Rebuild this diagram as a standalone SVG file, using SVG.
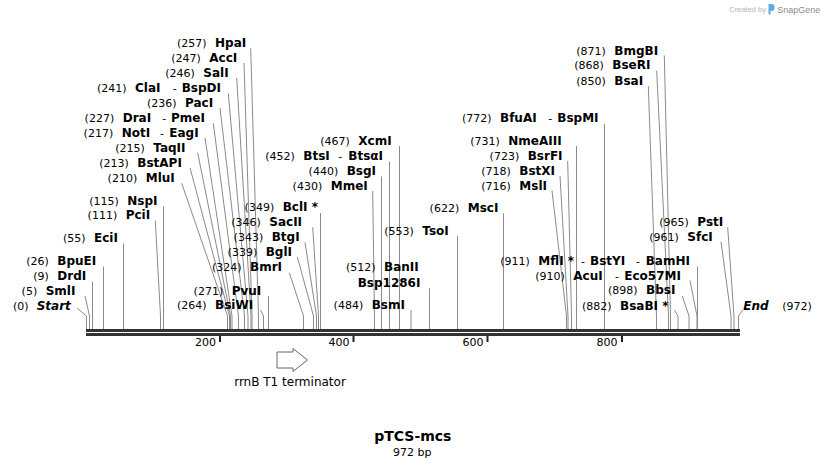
<svg xmlns="http://www.w3.org/2000/svg" width="826" height="468" viewBox="0 0 826 468">
<style>
text{font-family:"DejaVu Sans","Liberation Sans",sans-serif;fill:#000}
.n{font-size:11px;text-anchor:end}
.ns{font-size:11px}
.e{font-size:12px;font-weight:bold}
.i{font-size:12px;font-weight:bold;font-style:italic}
.d{font-size:11px}
.c polyline{fill:none;stroke:#8a8a8a;stroke-width:1}
.tk{font-size:11px;text-anchor:end}
</style>
<rect width="826" height="468" fill="#fff"/>
<g id="connectors" class="c">
<polyline points="77,308 86.5,316 86.5,329"/>
<polyline points="85,296 89.5,316 89.5,329"/>
<polyline points="92.5,281.5 92.5,329"/>
<polyline points="103.5,266.5 103.5,329"/>
<polyline points="123.5,243.5 123.5,329"/>
<polyline points="155.3,220.5 160.5,316 160.5,329"/>
<polyline points="163.5,206.5 163.5,329"/>
<polyline points="181.7,183.3 227.5,316 227.5,329"/>
<polyline points="190,167.8 229.5,316 229.5,329"/>
<polyline points="197.7,152.8 230.5,316 230.5,329"/>
<polyline points="205,137.8 232,316 232,329"/>
<polyline points="213.3,123.3 238.5,316 238.5,329"/>
<polyline points="220,108 244.5,316 244.5,329"/>
<polyline points="228.3,93.3 248,316 248,329"/>
<polyline points="236.7,78 251,316 251,329"/>
<polyline points="244,63 252,316 252,329"/>
<polyline points="250.7,48.3 258.5,316 258.5,329"/>
<polyline points="260.5,310 263.5,316 263.5,329"/>
<polyline points="268.5,296 268.5,329"/>
<polyline points="289.3,272.7 303.5,316 303.5,329"/>
<polyline points="297.3,257 313.5,316 313.5,329"/>
<polyline points="305,242.3 316.5,316 316.5,329"/>
<polyline points="312.7,227.3 318.5,316 318.5,329"/>
<polyline points="320.5,213 320.5,329"/>
<polyline points="372.7,191 374.5,316 374.5,329"/>
<polyline points="381.5,176.5 381.5,329"/>
<polyline points="389.5,161.5 389.5,329"/>
<polyline points="399.5,146 399.5,329"/>
<polyline points="411,310 411,329"/>
<polyline points="429.5,288.3 429.5,329"/>
<polyline points="457.5,236 457.5,329"/>
<polyline points="503.5,213.3 503.5,329"/>
<polyline points="552,190.5 566.5,316 566.5,329"/>
<polyline points="560,176 568,316 568,329"/>
<polyline points="567.7,161 571.5,316 571.5,329"/>
<polyline points="576.5,146 576.5,329"/>
<polyline points="604.5,124 604.5,329"/>
<polyline points="697.5,266.5 697.5,329"/>
<polyline points="690,280.5 697,316 697,329"/>
<polyline points="682.3,296 689,316 689,329"/>
<polyline points="674.3,310 678,316 678,329"/>
<polyline points="648.3,86 656.5,316 656.5,329"/>
<polyline points="656.7,70.7 668.5,316 668.5,329"/>
<polyline points="664.3,55.5 670.5,316 670.5,329"/>
<polyline points="721,241.7 731,316 731,329"/>
<polyline points="727.7,227.3 734,316 734,329"/>
<polyline points="742.7,310 738.5,316 738.5,329"/>
</g>
<g id="backbone">
<rect x="86" y="329" width="654" height="3" fill="#333"/>
<rect x="86" y="333" width="654" height="3" fill="#333"/>
<rect x="219" y="336" width="2" height="6" fill="#222"/>
<rect x="352.5" y="336" width="2" height="6" fill="#222"/>
<rect x="486.5" y="336" width="2" height="6" fill="#222"/>
<rect x="621" y="336" width="2" height="6" fill="#222"/>
<text class="tk" x="216" y="346">200</text>
<text class="tk" x="349.5" y="346">400</text>
<text class="tk" x="483.5" y="346">600</text>
<text class="tk" x="617.5" y="346">800</text>
</g>
<g id="start"><text class="n" x="28.5" y="309.5">(0)</text><text class="i" x="36.7" y="309.5">Start</text></g>
<g id="SmlI"><text class="n" x="37.2" y="294.5">(5)</text><text class="e" x="45.7" y="294.5">SmlI</text></g>
<g id="DrdI"><text class="n" x="48.8" y="279.5">(9)</text><text class="e" x="57.3" y="279.5">DrdI</text></g>
<g id="BpuEI"><text class="n" x="48.8" y="264.5">(26)</text><text class="e" x="57.3" y="264.5">BpuEI</text></g>
<g id="EciI"><text class="n" x="85.5" y="241.5">(55)</text><text class="e" x="94" y="241.5">EciI</text></g>
<g id="PciI"><text class="n" x="117.2" y="219">(111)</text><text class="e" x="125.7" y="219">PciI</text></g>
<g id="NspI"><text class="n" x="118.8" y="205">(115)</text><text class="e" x="127.3" y="205">NspI</text></g>
<g id="MluI"><text class="n" x="137.2" y="182">(210)</text><text class="e" x="145.7" y="182">MluI</text></g>
<g id="BstAPI"><text class="n" x="128.8" y="167">(213)</text><text class="e" x="137.3" y="167">BstAPI</text></g>
<g id="TaqII"><text class="n" x="144.8" y="152">(215)</text><text class="e" x="153.3" y="152">TaqII</text></g>
<g id="NotI"><text class="n" x="113.2" y="137">(217)</text><text class="e" x="121.7" y="137">NotI</text><text class="d" x="160" y="137">-</text><text class="e" x="169.3" y="137">EagI</text></g>
<g id="DraI"><text class="n" x="114.2" y="122">(227)</text><text class="e" x="122.7" y="122">DraI</text><text class="d" x="162.3" y="122">-</text><text class="e" x="171" y="122">PmeI</text></g>
<g id="PacI"><text class="n" x="176.5" y="107">(236)</text><text class="e" x="185" y="107">PacI</text></g>
<g id="ClaI"><text class="n" x="126.5" y="92">(241)</text><text class="e" x="135" y="92">ClaI</text><text class="d" x="172.7" y="92">-</text><text class="e" x="181.7" y="92">BspDI</text></g>
<g id="SalI"><text class="n" x="194.8" y="77">(246)</text><text class="e" x="203.3" y="77">SalI</text></g>
<g id="AccI"><text class="n" x="200.8" y="62">(247)</text><text class="e" x="209.3" y="62">AccI</text></g>
<g id="HpaI"><text class="n" x="206.5" y="47">(257)</text><text class="e" x="215" y="47">HpaI</text></g>
<g id="BsiWI"><text class="n" x="206.5" y="309">(264)</text><text class="e" x="215" y="309">BsiWI</text></g>
<g id="PvuI"><text class="n" x="223.2" y="294.5">(271)</text><text class="e" x="231.7" y="294.5">PvuI</text></g>
<g id="BmrI"><text class="n" x="241.5" y="271">(324)</text><text class="e" x="250" y="271">BmrI</text></g>
<g id="BglI"><text class="n" x="257.2" y="256">(339)</text><text class="e" x="265.7" y="256">BglI</text></g>
<g id="BtgI"><text class="n" x="263.2" y="241">(343)</text><text class="e" x="271.7" y="241">BtgI</text></g>
<g id="SacII"><text class="n" x="260.8" y="226">(346)</text><text class="e" x="269.3" y="226">SacII</text></g>
<g id="BclI"><text class="n" x="274.2" y="211">(349)</text><text class="e" x="282.7" y="211">BclI *</text></g>
<g id="MmeI"><text class="n" x="322.2" y="189.5">(430)</text><text class="e" x="330.7" y="189.5">MmeI</text></g>
<g id="BsgI"><text class="n" x="338.2" y="174.5">(440)</text><text class="e" x="346.7" y="174.5">BsgI</text></g>
<g id="BtsI"><text class="n" x="294.8" y="159.5">(452)</text><text class="e" x="303.3" y="159.5">BtsI</text><text class="d" x="338.3" y="159.5">-</text><text class="e" x="348.3" y="159.5">BtsαI</text></g>
<g id="XcmI"><text class="n" x="349.8" y="144.5">(467)</text><text class="e" x="358.3" y="144.5">XcmI</text></g>
<g id="BsmI"><text class="n" x="363.2" y="309">(484)</text><text class="e" x="371.7" y="309">BsmI</text></g>
<g id="BanII"><text class="n" x="375.5" y="271">(512)</text><text class="e" x="384" y="271">BanII</text><text class="e" x="357.7" y="286.5">Bsp1286I</text></g>
<g id="TsoI"><text class="n" x="413.8" y="234.5">(553)</text><text class="e" x="422.3" y="234.5">TsoI</text></g>
<g id="MscI"><text class="n" x="459.2" y="212">(622)</text><text class="e" x="467.7" y="212">MscI</text></g>
<g id="MslI"><text class="n" x="510.8" y="189.5">(716)</text><text class="e" x="519.3" y="189.5">MslI</text></g>
<g id="BstXI"><text class="n" x="510.8" y="174.5">(718)</text><text class="e" x="519.3" y="174.5">BstXI</text></g>
<g id="BsrFI"><text class="n" x="519.2" y="159.5">(723)</text><text class="e" x="527.7" y="159.5">BsrFI</text></g>
<g id="NmeAIII"><text class="n" x="499.8" y="144.5">(731)</text><text class="e" x="508.3" y="144.5">NmeAIII</text></g>
<g id="BfuAI"><text class="n" x="491.5" y="122">(772)</text><text class="e" x="500" y="122">BfuAI</text><text class="d" x="548.3" y="122">-</text><text class="e" x="557.3" y="122">BspMI</text></g>
<g id="BsaI"><text class="n" x="605.8" y="84.5">(850)</text><text class="e" x="614.3" y="84.5">BsaI</text></g>
<g id="BseRI"><text class="n" x="603.8" y="69">(868)</text><text class="e" x="612.3" y="69">BseRI</text></g>
<g id="BmgBI"><text class="n" x="605.8" y="54.5">(871)</text><text class="e" x="614.3" y="54.5">BmgBI</text></g>
<g id="BsaBI"><text class="n" x="611.5" y="309.5">(882)</text><text class="e" x="620" y="309.5">BsaBI *</text></g>
<g id="BbsI"><text class="n" x="637.5" y="294">(898)</text><text class="e" x="646" y="294">BbsI</text></g>
<g id="AcuI"><text class="n" x="564.8" y="279.5">(910)</text><text class="e" x="573.3" y="279.5">AcuI</text><text class="d" x="615" y="279.5">-</text><text class="e" x="624.3" y="279.5">Eco57MI</text></g>
<g id="MflI"><text class="n" x="529.8" y="264.5">(911)</text><text class="e" x="538.3" y="264.5">MflI *</text><text class="d" x="581" y="264.5">-</text><text class="e" x="590" y="264.5">BstYI</text><text class="d" x="636" y="264.5">-</text><text class="e" x="645.7" y="264.5">BamHI</text></g>
<g id="SfcI"><text class="n" x="678.8" y="241">(961)</text><text class="e" x="687.3" y="241">SfcI</text></g>
<g id="PstI"><text class="n" x="688.8" y="226">(965)</text><text class="e" x="697.3" y="226">PstI</text></g>
<g id="end"><text class="i" x="743.3" y="309.5">End</text><text class="ns" x="782.3" y="309.5">(972)</text></g>
<g id="rrnB">
<polygon points="277,352 293,352 293,348.5 307.5,360 293,371.5 293,368 277,368" fill="#fff" stroke="#666" stroke-width="1"/>
<text x="290" y="385.5" font-size="12" text-anchor="middle">rrnB T1 terminator</text>
</g>
<g id="title">
<text x="412.8" y="441" font-size="14" font-weight="bold" text-anchor="middle">pTCS-mcs</text>
<text x="412.2" y="456" font-size="11" text-anchor="middle">972 bp</text>
</g>
<g id="logo">
<text x="729.3" y="12" style="font-family:'Liberation Sans',sans-serif;font-size:7.5px;fill:#b5b5b5">Created by</text>
<path d="M768.5,4 h3 a3,3 0 0 1 3,3 v1 a3,3 0 0 1 -3,3 h-1 v3.5 h-2 z" fill="#5aaee6"/>
<text x="777.3" y="12.5" style="font-family:'Liberation Sans',sans-serif;font-size:9px;fill:#8c8c8c">SnapGene</text>
</g>
</svg>
